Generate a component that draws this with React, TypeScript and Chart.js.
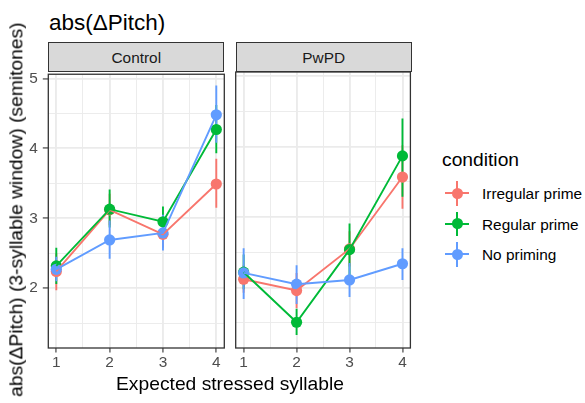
import React, { useEffect, useRef } from "react";
import { Chart, registerables } from "chart.js";

Chart.register(...registerables);

const FONT = "'Liberation Sans', Arial, Helvetica, sans-serif";

const syllables = [1, 2, 3, 4];
const conditions = ["Irregular prime", "Regular prime", "No priming"];
const colors = ["#F8766D", "#00BA38", "#619CFF"];
const panels = ["Control", "PwPD"];
const xTickValues = [1, 1.5, 2, 2.5, 3, 3.5, 4];
const yTickValues = [1.5, 2, 2.5, 3, 3.5, 4, 4.5, 5];

// Control
const controlIrregular = [2.24, 3.12, 2.77, 3.49];
const controlIrregularLow = [1.97, 2.9, 2.58, 3.15];
const controlIrregularHigh = [2.5, 3.35, 2.97, 3.85];
const controlRegular = [2.32, 3.13, 2.95, 4.27];
const controlRegularLow = [2.06, 2.87, 2.73, 3.93];
const controlRegularHigh = [2.58, 3.41, 3.17, 4.62];
const controlNone = [2.27, 2.69, 2.79, 4.48];
const controlNoneLow = [2.1, 2.42, 2.54, 4.08];
const controlNoneHigh = [2.45, 2.97, 3.05, 4.9];

// PwPD
const pwpdIrregular = [2.12, 1.96, 2.55, 3.57];
const pwpdIrregularLow = [1.93, 1.71, 2.3, 3.12];
const pwpdIrregularHigh = [2.32, 2.21, 2.8, 4.02];
const pwpdRegular = [2.22, 1.51, 2.54, 3.87];
const pwpdRegularLow = [1.98, 1.33, 2.17, 3.29];
const pwpdRegularHigh = [2.47, 1.7, 2.91, 4.4];
const pwpdNone = [2.21, 2.05, 2.11, 2.34];
const pwpdNoneLow = [1.84, 1.77, 1.87, 2.11];
const pwpdNoneHigh = [2.56, 2.32, 2.35, 2.56];

type Series = { mean: number[]; low: number[]; high: number[] };

const controlSeries: Series[] = [
  { mean: controlIrregular, low: controlIrregularLow, high: controlIrregularHigh },
  { mean: controlRegular, low: controlRegularLow, high: controlRegularHigh },
  { mean: controlNone, low: controlNoneLow, high: controlNoneHigh },
];
const pwpdSeries: Series[] = [
  { mean: pwpdIrregular, low: pwpdIrregularLow, high: pwpdIrregularHigh },
  { mean: pwpdRegular, low: pwpdRegularLow, high: pwpdRegularHigh },
  { mean: pwpdNone, low: pwpdNoneLow, high: pwpdNoneHigh },
];

const X_MIN = 0.85;
const X_MAX = 4.15;
const Y_MIN = 1.145;
const Y_MAX = 5.06;
const LINE_W = 1.9;
const POINT_R = 5.6;

function isMajor(v: number) {
  return Math.abs(v - Math.round(v)) < 1e-9;
}

function makeChart(canvas: HTMLCanvasElement, series: Series[], showY: boolean, padLeft: number, padRight: number) {
  const datasets: any[] = [];
  series.forEach((s, i) => {
    datasets.push({
      label: conditions[i] + " points",
      data: syllables.map((x, j) => ({ x, y: s.mean[j] })),
      showLine: false,
      pointRadius: POINT_R,
      pointBorderWidth: 0,
      pointBackgroundColor: colors[i],
      pointBorderColor: colors[i],
      borderColor: colors[i],
      order: 6 - i,
    });
  });
  series.forEach((s, i) => {
    datasets.push({
      label: conditions[i] + " line",
      data: syllables.map((x, j) => ({ x, y: s.mean[j] })),
      showLine: true,
      pointRadius: 0,
      borderWidth: LINE_W,
      borderColor: colors[i],
      tension: 0,
      fill: false,
      order: 3 - i,
    });
  });

  const errorBars = {
    id: "errorBars",
    beforeDatasetsDraw(chart: any) {
      const { ctx, chartArea, scales } = chart;
      ctx.save();
      ctx.beginPath();
      ctx.rect(chartArea.left, chartArea.top, chartArea.right - chartArea.left, chartArea.bottom - chartArea.top);
      ctx.clip();
      ctx.lineWidth = LINE_W;
      ctx.lineCap = "butt";
      series.forEach((s, i) => {
        ctx.strokeStyle = colors[i];
        syllables.forEach((x, j) => {
          const px = scales.x.getPixelForValue(x);
          const y1 = scales.y.getPixelForValue(s.low[j]);
          const y2 = scales.y.getPixelForValue(s.high[j]);
          ctx.beginPath();
          ctx.moveTo(px, y1);
          ctx.lineTo(px, y2);
          ctx.stroke();
        });
      });
      ctx.restore();
    },
  };

  const panelBorder = {
    id: "panelBorder",
    afterDraw(chart: any) {
      const { ctx, chartArea } = chart;
      ctx.save();
      ctx.strokeStyle = "#333333";
      ctx.lineWidth = 1.3;
      ctx.strokeRect(chartArea.left, chartArea.top, chartArea.right - chartArea.left, chartArea.bottom - chartArea.top);
      ctx.restore();
    },
  };

  const gridCommon = {
    color: "#EBEBEB",
    lineWidth: (c: any) => (c.tick && isMajor(c.tick.value) ? 1.87 : 0.93),
    tickColor: (c: any) => (c.tick && isMajor(c.tick.value) ? "#333333" : "rgba(0,0,0,0)"),
    tickWidth: 1.1,
  };

  return new Chart(canvas, {
    type: "line",
    data: { datasets },
    plugins: [errorBars, panelBorder],
    options: {
      animation: false,
      responsive: true,
      maintainAspectRatio: false,
      events: [],
      layout: { padding: { top: 12, right: padRight, left: padLeft, bottom: 12 } },
      plugins: {
        legend: { display: false },
        tooltip: { enabled: false },
        title: { display: false },
      },
      scales: {
        x: {
          type: "linear",
          min: X_MIN,
          max: X_MAX,
          afterBuildTicks: (scale: any) => {
            scale.ticks = xTickValues.map((v) => ({ value: v }));
          },
          afterFit: (scale: any) => {
            scale.height = 20;
          },
          border: { display: false },
          grid: { ...gridCommon, tickLength: 4.5 },
          ticks: {
            autoSkip: false,
            maxRotation: 0,
            padding: 1,
            color: "#4D4D4D",
            font: { family: FONT, size: 15.4 },
            callback: (v: any) => (isMajor(Number(v)) ? String(Math.round(Number(v))) : ""),
          },
        },
        y: {
          type: "linear",
          min: Y_MIN,
          max: Y_MAX,
          afterBuildTicks: (scale: any) => {
            scale.ticks = yTickValues.map((v) => ({ value: v }));
          },
          afterFit: (scale: any) => {
            scale.width = showY ? 48.3 : 0;
          },
          border: { display: false },
          grid: { ...gridCommon, tickLength: 5.5, drawTicks: showY },
          ticks: {
            display: showY,
            autoSkip: false,
            padding: 5,
            color: "#4D4D4D",
            font: { family: FONT, size: 15.4 },
            callback: (v: any) => (isMajor(Number(v)) ? String(Math.round(Number(v))) : ""),
          },
        },
      },
    } as any,
  });
}

function Panel(props: { series: Series[]; showY: boolean; left: number; width: number; padLeft: number; padRight: number }) {
  const ref = useRef<HTMLCanvasElement | null>(null);
  useEffect(() => {
    if (!ref.current) return;
    const chart = makeChart(ref.current, props.series, props.showY, props.padLeft, props.padRight);
    return () => chart.destroy();
  }, []);
  return (
    <div style={{ position: "absolute", left: props.left, top: 60, width: props.width, height: 320 }}>
      <canvas ref={ref} />
    </div>
  );
}

const txt = (fs: number, baseline: number) => baseline - 0.8465 * fs;

export default function App() {
  const strips = [
    { label: panels[0], left: 48.3, width: 176 },
    { label: panels[1], left: 235.7, width: 176 },
  ];
  const legendRows = [193.3, 223.8, 254.3];
  return (
    <div
      style={{
        position: "absolute",
        left: 0,
        top: 0,
        width: 585,
        height: 403,
        background: "#FFFFFF",
        overflow: "hidden",
        fontFamily: FONT,
        color: "#000000",
      }}
    >
      <div style={{ position: "absolute", left: 49, top: txt(22.5, 31.5), fontSize: 22.5, lineHeight: 1, whiteSpace: "nowrap" }}>
        abs(ΔPitch)
      </div>

      {strips.map((s) => (
        <div
          key={s.label}
          style={{
            position: "absolute",
            left: s.left,
            top: 41.7,
            width: s.width,
            height: 30.3,
            boxSizing: "border-box",
            background: "#D9D9D9",
            border: "1.3px solid #333333",
          }}
        />
      ))}
      {strips.map((s) => (
        <div
          key={s.label + "t"}
          style={{
            position: "absolute",
            left: s.left,
            width: s.width,
            top: txt(15.4, 63.3),
            fontSize: 15.4,
            lineHeight: 1,
            textAlign: "center",
            color: "#1A1A1A",
            whiteSpace: "nowrap",
          }}
        >
          {s.label}
        </div>
      ))}

      <Panel series={controlSeries} showY={true} left={0} width={232} padLeft={0} padRight={7.7} />
      <Panel series={pwpdSeries} showY={false} left={226} width={190} padLeft={9.7} padRight={4.3} />

      <div
        style={{
          position: "absolute",
          left: 15.8 - 210,
          top: 210 - 19.25 / 2,
          width: 420,
          height: 19.25,
          fontSize: 19.25,
          lineHeight: 1,
          textAlign: "center",
          whiteSpace: "nowrap",
          transform: "rotate(-90deg)",
          transformOrigin: "center center",
        }}
      >
        abs(ΔPitch) (3-syllable window) (semitones)
      </div>

      <div
        style={{
          position: "absolute",
          left: 30,
          width: 400,
          top: txt(19.25, 390.5),
          fontSize: 19.25,
          lineHeight: 1,
          textAlign: "center",
          whiteSpace: "nowrap",
        }}
      >
        Expected stressed syllable
      </div>

      <div style={{ position: "absolute", left: 442, top: txt(19.25, 166), fontSize: 19.25, lineHeight: 1, whiteSpace: "nowrap" }}>
        condition
      </div>
      {conditions.map((c, i) => {
        const cy = legendRows[i];
        const cx = 457.2;
        return (
          <React.Fragment key={c}>
            <div style={{ position: "absolute", left: cx - 12.2, top: cy - LINE_W / 2, width: 24.4, height: LINE_W, background: colors[i] }} />
            <div style={{ position: "absolute", left: cx - LINE_W / 2, top: cy - 12.3, width: LINE_W, height: 24.6, background: colors[i] }} />
            <div
              style={{
                position: "absolute",
                left: cx - POINT_R,
                top: cy - POINT_R,
                width: POINT_R * 2,
                height: POINT_R * 2,
                borderRadius: "50%",
                background: colors[i],
              }}
            />
            <div style={{ position: "absolute", left: 482, top: txt(15.4, cy + 6.2), fontSize: 15.4, lineHeight: 1, whiteSpace: "nowrap" }}>
              {c}
            </div>
          </React.Fragment>
        );
      })}
    </div>
  );
}
